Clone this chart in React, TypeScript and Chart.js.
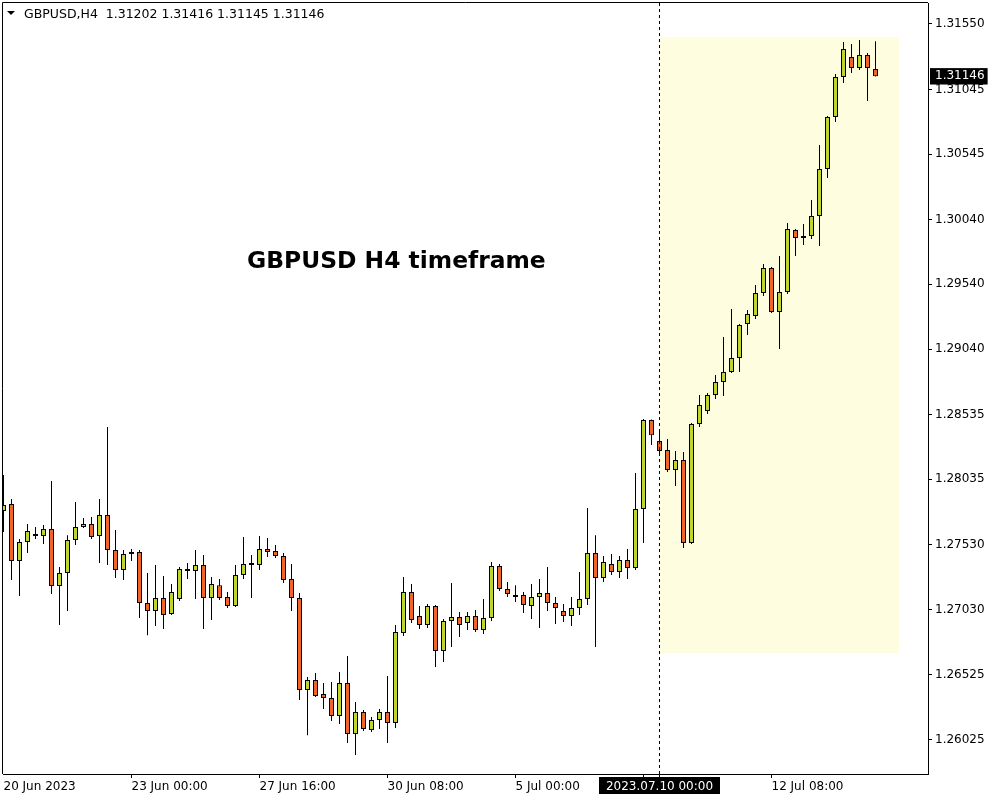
import React, { useEffect, useRef } from "react";
import { Chart, registerables } from "chart.js";

Chart.register(...registerables);

// ---- Data (GBPUSD H4, 20 Jun 2023 08:00 .. 14 Jul 2023 12:00) ----
const opens = [
  1.2779, 1.27844, 1.27404, 1.27551, 1.27612, 1.27597, 1.27652, 1.27211, 1.27312, 1.27566,
  1.27667, 1.2769, 1.27597, 1.27759, 1.27489, 1.27335, 1.27474, 1.27474, 1.2708, 1.27018,
  1.27118, 1.26995, 1.27111, 1.27343, 1.27327, 1.27373, 1.27118, 1.27218, 1.27126, 1.27057,
  1.27296, 1.27389, 1.27373, 1.27497, 1.27481, 1.27443, 1.27266, 1.27118, 1.26408, 1.26485,
  1.26377, 1.26346, 1.26208, 1.26462, 1.26068, 1.26239, 1.26099, 1.26177, 1.26239, 1.26154,
  1.26848, 1.27165, 1.2698, 1.2691, 1.27057, 1.26709, 1.26941, 1.26972, 1.26926, 1.2698,
  1.26871, 1.26964, 1.27366, 1.27188, 1.27126, 1.27141, 1.27057, 1.27126, 1.27157, 1.2708,
  1.27018, 1.2698, 1.27041, 1.27111, 1.27466, 1.27273, 1.27381, 1.2732, 1.27412, 1.2735,
  1.27806, 1.28493, 1.2833, 1.28261, 1.28107, 1.28184, 1.27543, 1.28462, 1.28562, 1.28686,
  1.28786, 1.28864, 1.28971, 1.29234, 1.29296, 1.29473, 1.29666, 1.29327, 1.29481, 1.29959,
  1.29898, 1.29913, 1.30068, 1.30431, 1.30832, 1.31141, 1.31295, 1.3121, 1.31311, 1.31202,
];
const highs = [
  1.28068, 1.27883, 1.27574, 1.2769, 1.27667, 1.27682, 1.28021, 1.27358, 1.27604, 1.2786,
  1.27736, 1.27744, 1.27883, 1.28439, 1.27643, 1.27489, 1.27497, 1.27489, 1.27312, 1.27373,
  1.27289, 1.27226, 1.27358, 1.27389, 1.27489, 1.2745, 1.27281, 1.27266, 1.27165, 1.27373,
  1.27589, 1.2745, 1.27597, 1.27581, 1.27527, 1.27466, 1.27381, 1.27157, 1.26509, 1.2654,
  1.26462, 1.2647, 1.26548, 1.26671, 1.26316, 1.26254, 1.262, 1.26262, 1.26517, 1.2691,
  1.27281, 1.27226, 1.27057, 1.27072, 1.27065, 1.26957, 1.27234, 1.2701, 1.2701, 1.27026,
  1.27111, 1.27397, 1.27381, 1.27242, 1.27218, 1.27165, 1.27226, 1.27266, 1.27358, 1.27126,
  1.27072, 1.27126, 1.2732, 1.27813, 1.27604, 1.27443, 1.27458, 1.27443, 1.27497, 1.28084,
  1.28501, 1.28497, 1.28423, 1.28346, 1.28253, 1.28246, 1.2847, 1.28686, 1.28701, 1.2884,
  1.29133, 1.2935, 1.29234, 1.29342, 1.29535, 1.29697, 1.29674, 1.29759, 1.30014, 1.29967,
  1.30006, 1.30191, 1.30616, 1.3084, 1.31164, 1.31411, 1.31395, 1.31426, 1.31326, 1.31416,
];
const lows = [
  1.27628, 1.27257, 1.27134, 1.27466, 1.27574, 1.27535, 1.27149, 1.2691, 1.27018, 1.27527,
  1.27659, 1.27574, 1.27389, 1.27373, 1.27273, 1.27257, 1.27404, 1.26964, 1.26832, 1.26903,
  1.2688, 1.26987, 1.27095, 1.27266, 1.27111, 1.2688, 1.26949, 1.27103, 1.27041, 1.27049,
  1.27266, 1.27118, 1.27335, 1.27435, 1.27427, 1.27234, 1.27018, 1.26331, 1.2606, 1.26354,
  1.26262, 1.26169, 1.26146, 1.25999, 1.25906, 1.26091, 1.26084, 1.26108, 1.25999, 1.26115,
  1.26825, 1.26926, 1.2688, 1.26887, 1.26586, 1.26625, 1.2674, 1.26817, 1.26871, 1.26856,
  1.2684, 1.26941, 1.27172, 1.27126, 1.27087, 1.27003, 1.26957, 1.26887, 1.27018, 1.26918,
  1.26933, 1.26903, 1.26987, 1.27064, 1.2674, 1.27242, 1.27296, 1.27273, 1.27266, 1.27335,
  1.27543, 1.28299, 1.28222, 1.28091, 1.27983, 1.27504, 1.27535, 1.28439, 1.28539, 1.28655,
  1.28678, 1.28856, 1.28864, 1.29149, 1.29273, 1.2945, 1.29319, 1.29041, 1.29465, 1.29759,
  1.29844, 1.2989, 1.29836, 1.30361, 1.30794, 1.31094, 1.31172, 1.31195, 1.30955, 1.31145,
];
const closes = [
  1.27836, 1.27404, 1.27551, 1.27635, 1.27597, 1.27652, 1.27211, 1.27312, 1.27566, 1.27667,
  1.2769, 1.27589, 1.27759, 1.27489, 1.27335, 1.27458, 1.27458, 1.2708, 1.27018, 1.27118,
  1.26987, 1.27165, 1.27343, 1.27327, 1.27373, 1.27118, 1.27226, 1.27118, 1.27057, 1.27296,
  1.27381, 1.27374, 1.27497, 1.27474, 1.27443, 1.27257, 1.27118, 1.26408, 1.26485, 1.26362,
  1.26346, 1.26208, 1.26462, 1.26068, 1.26239, 1.26108, 1.26177, 1.26239, 1.26154, 1.26856,
  1.27165, 1.26949, 1.2691, 1.27057, 1.26709, 1.26941, 1.26972, 1.2691, 1.2698, 1.26871,
  1.26964, 1.27366, 1.27188, 1.27149, 1.27141, 1.27064, 1.27126, 1.27157, 1.2708, 1.27041,
  1.2698, 1.27041, 1.27111, 1.27466, 1.27273, 1.27397, 1.2732, 1.27412, 1.2735, 1.27806,
  1.28493, 1.28376, 1.28253, 1.28107, 1.28184, 1.27543, 1.28462, 1.28608, 1.28686, 1.28786,
  1.28864, 1.28971, 1.29226, 1.29311, 1.29473, 1.29666, 1.29327, 1.29481, 1.29967, 1.29898,
  1.29913, 1.30068, 1.30431, 1.30832, 1.31141, 1.31357, 1.3121, 1.31311, 1.3121, 1.31146,
];

const yTickValues = [
  1.3155, 1.31045, 1.30545, 1.3004, 1.2954, 1.2904, 1.28535, 1.28035, 1.2753, 1.2703, 1.26525, 1.26025,
];
const lastPrice = 1.31146;
const xTickIndex = [0, 16, 32, 48, 64, 80, 82, 96];
const xTickLabels = ["20 Jun 2023", "23 Jun 00:00", "27 Jun 16:00", "30 Jun 08:00", "5 Jul 00:00", "", "", "12 Jul 08:00"];
const markerIndex = 82;
const markerLabel = "2023.07.10 00:00";
const shadeX = [82, 111.94];
const shadeTop = 1.3145;
const shadeBottom = 1.26694;
const headerSymbol = "GBPUSD,H4";
const headerOHLC = [1.31202, 1.31416, 1.31145, 1.31146];
const titleText = "GBPUSD H4 timeframe";

// scale bounds
const xMin = -0.0625;
const xMax = 115.5625;
const yMin = 1.2576;
const yMax = 1.31712;

const FONT = "DejaVu Sans";
const BULL = "#BFD62F";
const BEAR = "#F1652A";
const SHADE = "#FFFDE0";

export default function App() {
  const ref = useRef<HTMLCanvasElement>(null);

  useEffect(() => {
    document.body.style.margin = "0";
    const canvas = ref.current!;
    const idx = opens.map((_, i) => i);
    const bodyColors = idx.map((i) => (closes[i] >= opens[i] ? BULL : BEAR));

    const overlay = {
      id: "overlay",
      afterDraw(chart: any) {
        const ctx = chart.ctx;
        const area = chart.chartArea;
        ctx.save();
        // frame (left + top)
        ctx.strokeStyle = "#000";
        ctx.lineWidth = 1;
        ctx.beginPath();
        ctx.moveTo(area.left - 0.5, area.bottom);
        ctx.lineTo(area.left - 0.5, area.top - 0.5);
        ctx.lineTo(area.right, area.top - 0.5);
        ctx.stroke();
        // header
        ctx.fillStyle = "#000";
        ctx.beginPath();
        ctx.moveTo(7, 11);
        ctx.lineTo(15, 11);
        ctx.lineTo(11, 15);
        ctx.closePath();
        ctx.fill();
        ctx.font = `12.5px "${FONT}"`;
        ctx.textAlign = "left";
        ctx.textBaseline = "alphabetic";
        ctx.fillText(`${headerSymbol}  ${headerOHLC.map((v) => v.toFixed(5)).join(" ")}`, 24, 18);
        // title
        ctx.font = `bold 23.4px "${FONT}"`;
        ctx.fillText(titleText, 247, 268);
        // highlighted x label
        const xs = chart.scales.x;
        const px = xs.getPixelForValue(markerIndex);
        ctx.font = `12px "${FONT}"`;
        const w = ctx.measureText(markerLabel).width;
        const bx = Math.round(px - w / 2 - 7);
        ctx.fillStyle = "#000";
        ctx.fillRect(bx, area.bottom + 3, Math.round(w + 14), 17);
        ctx.fillStyle = "#fff";
        ctx.textAlign = "center";
        ctx.textBaseline = "middle";
        ctx.fillText(markerLabel, px, area.bottom + 13.2);
        ctx.restore();
      },
    };

    const chart = new Chart(canvas, {
      type: "bar",
      data: {
        datasets: [
          {
            type: "line",
            data: [
              { x: shadeX[0], y: shadeTop },
              { x: shadeX[1], y: shadeTop },
            ],
            fill: { value: shadeBottom },
            backgroundColor: SHADE,
            borderColor: "rgba(0,0,0,0)",
            pointRadius: 0,
            order: 4,
          } as any,
          {
            type: "bar",
            data: idx.map((i) => ({ x: i, y: [lows[i], highs[i]] })),
            backgroundColor: "#000",
            borderWidth: 0,
            grouped: false,
            maxBarThickness: 1,
            inflateAmount: 0,
            order: 2,
          } as any,
          {
            type: "bar",
            data: idx.map((i) => ({ x: i, y: [opens[i], closes[i]] })),
            backgroundColor: bodyColors,
            borderColor: "#000",
            borderWidth: 1,
            borderSkipped: false,
            grouped: false,
            maxBarThickness: 5,
            inflateAmount: 0,
            order: 1,
          } as any,
          {
            type: "line",
            data: [
              { x: markerIndex, y: yMax },
              { x: markerIndex, y: yMin },
            ],
            borderColor: "#000",
            borderWidth: 1,
            borderDash: [3, 3],
            pointRadius: 0,
            fill: false,
            order: 0,
          } as any,
        ],
      },
      options: {
        animation: false,
        responsive: false,
        events: [],
        layout: { padding: { left: 3, top: 3, right: 0, bottom: 0 } },
        plugins: {
          legend: { display: false },
          tooltip: { enabled: false },
          title: { display: false },
        },
        scales: {
          x: {
            type: "linear",
            min: xMin,
            max: xMax,
            offset: false,
            bounds: "data",
            grid: {
              offset: false,
              drawOnChartArea: false,
              drawTicks: true,
              tickLength: 4,
              color: (c: any) => (c.index === 0 ? "rgba(0,0,0,0)" : "#000"),
            },
            border: { display: true, color: "#000", width: 1 },
            ticks: {
              autoSkip: false,
              maxRotation: 0,
              minRotation: 0,
              align: "start",
              padding: 2,
              color: "#000",
              font: { family: FONT, size: 12 },
              callback: (_v: any, i: number) => xTickLabels[i] ?? "",
            },
            afterBuildTicks: (s: any) => {
              s.ticks = xTickIndex.map((v) => ({ value: v }));
            },
            afterFit: (s: any) => {
              s.height = 26;
              s.paddingLeft = 0;
              s.paddingRight = 0;
              s.paddingTop = 0;
              s.paddingBottom = 0;
            },
          } as any,
          y: {
            type: "linear",
            position: "right",
            min: yMin,
            max: yMax,
            bounds: "data",
            beginAtZero: false,
            grid: {
              drawOnChartArea: false,
              drawTicks: true,
              tickLength: 4,
              color: (c: any) => (c.index === yTickValues.length ? "rgba(0,0,0,0)" : "#000"),
            },
            border: { display: true, color: "#000", width: 1 },
            ticks: {
              autoSkip: false,
              padding: 3,
              font: { family: FONT, size: 12 },
              color: (c: any) => (c.index === yTickValues.length ? "#fff" : "#000"),
              showLabelBackdrop: (c: any) => c.index === yTickValues.length,
              backdropColor: "#000",
              backdropPadding: { top: 1, bottom: 1, left: 5, right: 3 },
              callback: (v: any) => Number(v).toFixed(5),
            },
            afterBuildTicks: (s: any) => {
              s.ticks = [...yTickValues, lastPrice].map((v) => ({ value: v }));
            },
            afterFit: (s: any) => {
              s.width = 72;
              s.paddingTop = 0;
              s.paddingBottom = 0;
              s.paddingLeft = 0;
              s.paddingRight = 0;
            },
          } as any,
        },
      },
      plugins: [overlay],
    });
    return () => chart.destroy();
  }, []);

  return <canvas ref={ref} width={1000} height={800} style={{ display: "block" }} />;
}
